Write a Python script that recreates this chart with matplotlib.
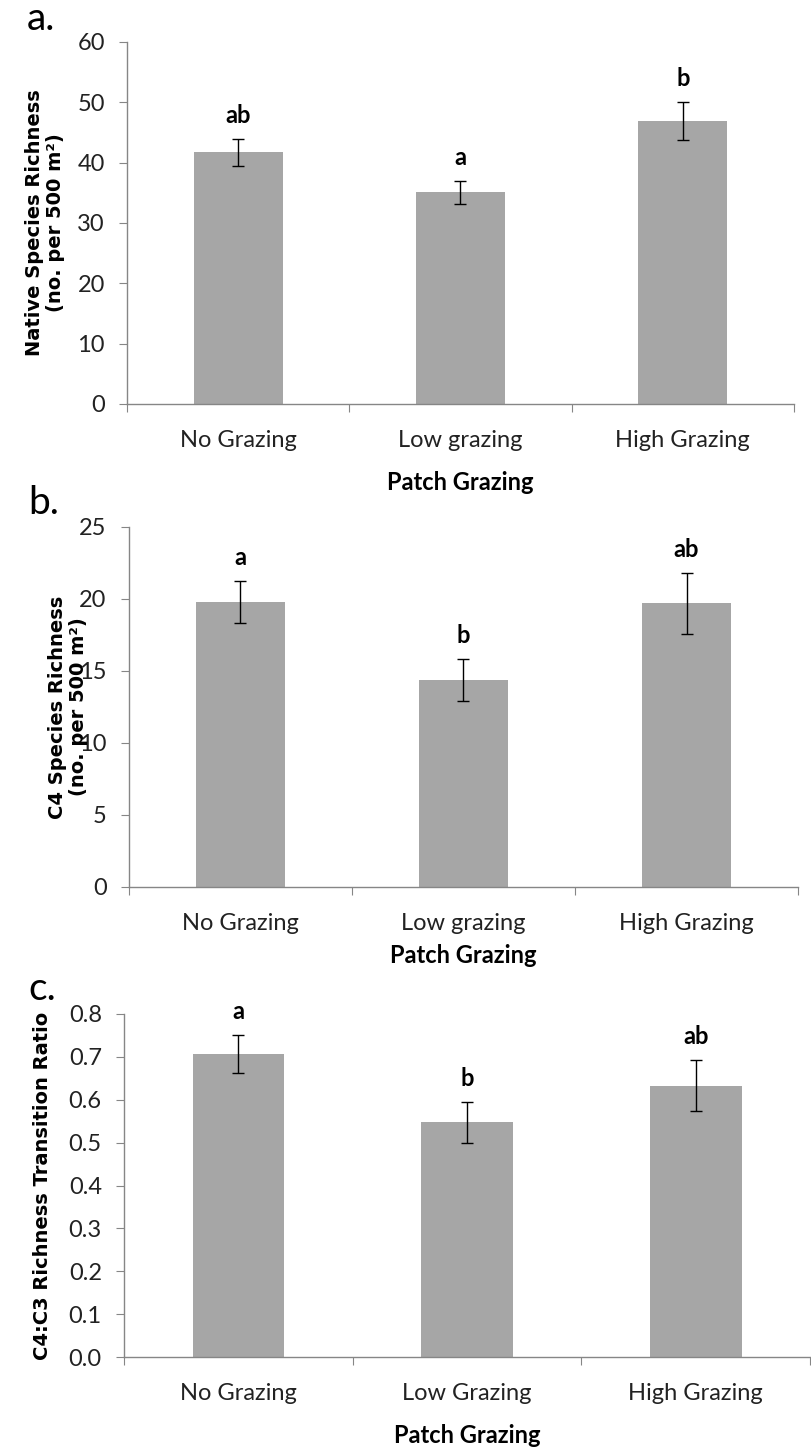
import matplotlib
matplotlib.use('Agg')
import matplotlib.pyplot as plt
import numpy as np

# data
cats_ab = ['No Grazing', 'Low grazing', 'High Grazing']
cats_c = ['No Grazing', 'Low Grazing', 'High Grazing']

native_mean = [41.7, 35.1, 46.9]
native_err = [2.2, 1.9, 3.1]
native_let = ['ab', 'a', 'b']

c4_mean = [19.8, 14.35, 19.7]
c4_err = [1.45, 1.45, 2.1]
c4_let = ['a', 'b', 'ab']

ratio_mean = [0.707, 0.547, 0.633]
ratio_err = [0.044, 0.048, 0.059]
ratio_let = ['a', 'b', 'ab']

bar_col = '#A6A6A6'
axis_col = '#868686'
txt_font = ['Lato', 'DejaVu Sans']

fig = plt.figure(figsize=(8.11, 14.5), dpi=100)


def panel(rect, cats, means, errs, letters, ylim, yticks, yfmt, ylabel,
          ylab_x, xlab_y, tag, tag_xy):
    ax = fig.add_axes(rect)
    x = np.arange(len(cats))
    ax.bar(x, means, width=0.4, color=bar_col, zorder=2)
    ax.errorbar(x, means, yerr=errs, fmt='none', ecolor='black',
                elinewidth=1, capsize=4, capthick=1, zorder=3)
    for i in range(len(cats)):
        ax.annotate(letters[i], xy=(x[i], means[i] + errs[i]),
                    xytext=(0, 17), textcoords='offset points',
                    ha='center', va='center', fontsize=17,
                    fontweight='bold', family=txt_font, annotation_clip=False)

    ax.set_xlim(-0.5, len(cats) - 0.5)
    ax.set_ylim(*ylim)
    ax.set_yticks(yticks)
    ax.set_yticklabels([yfmt.format(v) for v in yticks], family=txt_font,
                       fontsize=17, color='#222222')
    # category boundaries get the tick marks, labels sit in between
    ax.set_xticks(np.arange(-0.5, len(cats), 1.0))
    ax.set_xticklabels([])
    ax.set_xticks(x, minor=True)
    ax.set_xticklabels(cats, minor=True, family=txt_font, fontsize=17,
                       color='#222222')
    ax.tick_params(axis='x', which='major', length=6, color=axis_col,
                   direction='out')
    ax.tick_params(axis='x', which='minor', length=0, pad=19)
    ax.tick_params(axis='y', length=6, color=axis_col, direction='out', pad=10)

    for s in ['top', 'right']:
        ax.spines[s].set_visible(False)
    for s in ['left', 'bottom']:
        ax.spines[s].set_color(axis_col)
        ax.spines[s].set_linewidth(1)

    ax.set_ylabel(ylabel, fontsize=14, fontweight='bold', family='DejaVu Sans',
                  linespacing=1.15)
    ax.yaxis.set_label_coords(ylab_x, 0.5)
    ax.set_xlabel('Patch Grazing', fontsize=17, fontweight='bold',
                  family=txt_font)
    ax.xaxis.set_label_coords(0.5, xlab_y)
    fig.text(tag_xy[0], tag_xy[1], tag, fontsize=28, family=txt_font,
             ha='left', va='center')
    return ax


panel([0.1566, 0.7214, 0.8224, 0.2497], cats_ab, native_mean, native_err,
      native_let, (0, 60), [0, 10, 20, 30, 40, 50, 60], '{:.0f}',
      'Native Species Richness\n(no. per 500 m²)', -0.093, -0.185,
      'a.', (0.033, 0.987))

panel([0.159, 0.3883, 0.825, 0.2483], cats_ab, c4_mean, c4_err,
      c4_let, (0, 25), [0, 5, 10, 15, 20, 25], '{:.0f}',
      'C4 Species Richness\n(no. per 500 m²)', -0.061, -0.158,
      'b.', (0.035, 0.653))

panel([0.153, 0.0641, 0.846, 0.2366], cats_c, ratio_mean, ratio_err,
      ratio_let, (0, 0.8), [0, 0.1, 0.2, 0.3, 0.4, 0.5, 0.6, 0.7, 0.8],
      '{:.1f}', 'C4:C3 Richness Transition Ratio', -0.105, -0.196,
      'c.', (0.035, 0.318))

fig.savefig('out.png', dpi=100, facecolor='white')
